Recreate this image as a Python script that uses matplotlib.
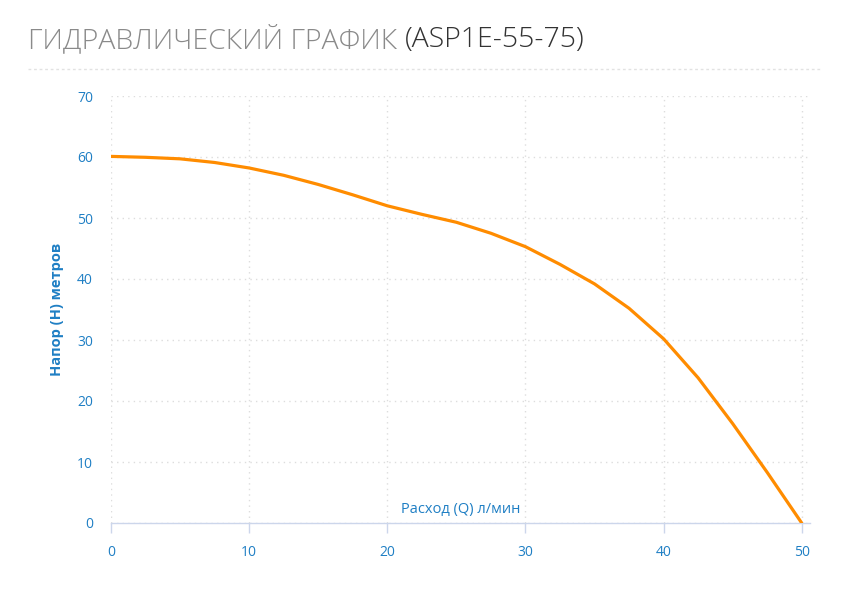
import matplotlib
matplotlib.use('Agg')
import matplotlib.pyplot as plt
from matplotlib.lines import Line2D
from matplotlib import font_manager

# flow (l/min) and head (m)
flow = [0, 2.5, 5, 7.5, 10, 12.5, 15, 17.5, 20, 22.5, 25, 27.5,
        30, 32.5, 35, 37.5, 40, 42.5, 45, 47.5, 50]
head = [60.1, 59.95, 59.7, 59.1, 58.2, 57.0, 55.5, 53.8, 52.0, 50.6, 49.3, 47.5,
        45.3, 42.4, 39.2, 35.2, 30.2, 23.8, 16.3, 8.3, 0]

xticks = [0, 10, 20, 30, 40, 50]
yticks = [0, 10, 20, 30, 40, 50, 60, 70]

title_main = 'ГИДРАВЛИЧЕСКИЙ ГРАФИК '
title_model = '(ASP1E-55-75)'
xlabel = 'Расход (Q) л/мин'
ylabel = 'Напор (H) метров'

blue = '#1f7fc4'
axis_col = '#ccd6eb'
grid_col = '#dddddd'

plt.rcParams['font.family'] = ['Open Sans', 'DejaVu Sans']

# a lighter (not condensed) face for the title, if one is installed
light = None
for f in font_manager.fontManager.ttflist:
    if f.name != 'Open Sans' or 'ondensed' in f.fname or f.stretch != 'normal':
        continue
    if f.weight in (300, 'light') and f.style == 'normal':
        light = f.fname
        break
if light:
    tprops = font_manager.FontProperties(fname=light, size=20.5)
else:
    tprops = font_manager.FontProperties(family='Open Sans', size=20.3)

fig = plt.figure(figsize=(8.47, 5.93), dpi=100)
ax = fig.add_axes([111 / 847, 1 - 523 / 593, (810 - 111) / 847, (523 - 96) / 593])

ax.plot(flow, head, color='#ff8c00', lw=2.3, solid_capstyle='round', zorder=3)

ax.set_xlim(0, 50.6)
ax.set_ylim(0, 70)
ax.set_xticks(xticks)
ax.set_yticks(yticks)

ax.grid(True, linestyle=(0, (1, 3)), color=grid_col, lw=1)
for s in ['top', 'right', 'left']:
    ax.spines[s].set_visible(False)
ax.spines['bottom'].set_color(axis_col)
ax.spines['bottom'].set_linewidth(1)

ax.tick_params(axis='x', colors=axis_col, length=7.2, width=1, pad=8.6,
               labelcolor=blue, labelsize=10)
ax.tick_params(axis='y', length=0, pad=13, labelcolor=blue, labelsize=10)

ax.text(0.5, 0.015, xlabel, transform=ax.transAxes, ha='center', va='bottom',
        color=blue, fontsize=10.5)
fig.text(57 / 847, 1 - 309 / 593, ylabel, rotation=90, ha='center', va='center',
         color=blue, fontsize=10.5, fontweight='bold')

# title in two colours
t1 = fig.text(28 / 847, 1 - 40 / 593, title_main, ha='left', va='center',
              color='#8a8a8a', fontproperties=tprops)
fig.canvas.draw()
bb = t1.get_window_extent()
fig.text(bb.x1 / 847, 1 - 40 / 593, title_model, ha='left', va='center',
         color='#333333', fontproperties=tprops)

fig.add_artist(Line2D([28 / 847, 820 / 847], [1 - 69 / 593, 1 - 69 / 593],
                      transform=fig.transFigure, color='#e2e2e2', lw=1,
                      linestyle=(0, (2, 2))))

fig.savefig('out.png', dpi=100)
